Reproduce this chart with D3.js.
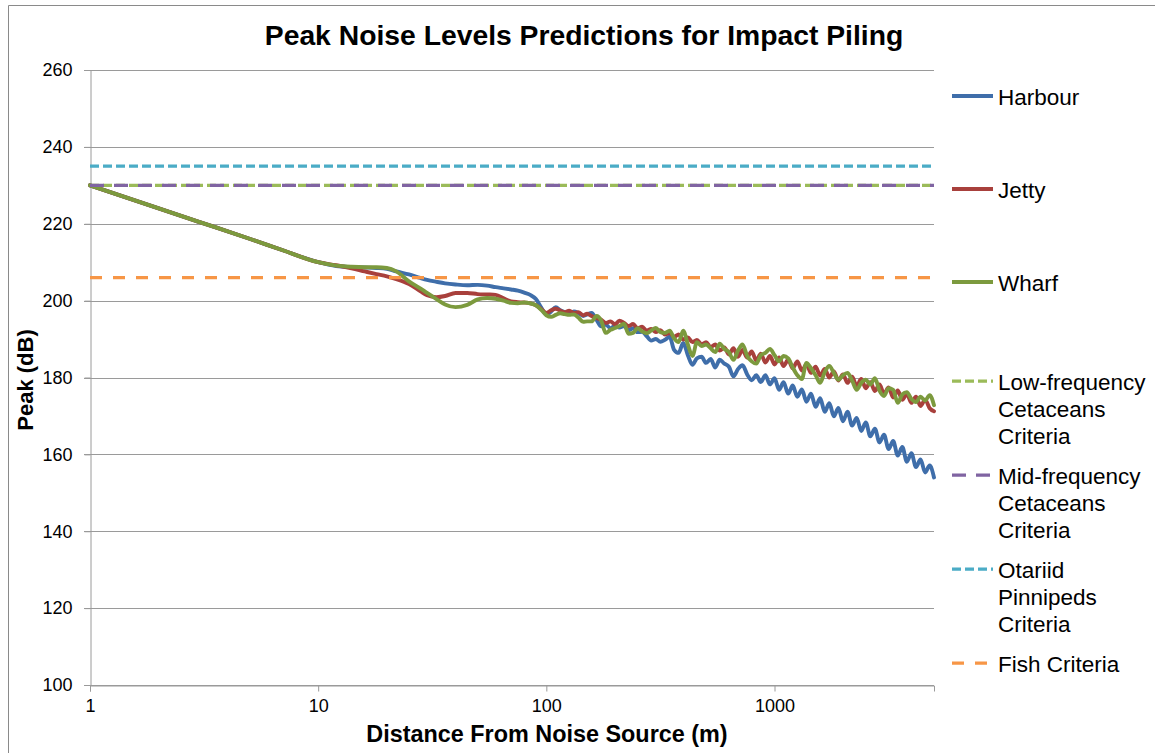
<!DOCTYPE html>
<html>
<head>
<meta charset="utf-8">
<script src="https://cdn.jsdelivr.net/npm/d3@7"></script>
<style>
  html, body { margin: 0; padding: 0; background: #fff; }
  svg { display: block; font-family: Arial, "Liberation Sans", sans-serif; }
</style>
</head>
<body>
<svg id="chart" width="1155" height="753"></svg>
<script>
// Distance from the noise source (m)
const distances = [
  1, 2, 3, 5, 7, 10, 12, 14, 16, 18, 20, 22, 25, 28, 30, 33, 36, 40, 45, 50,
  55, 60, 65, 70, 75, 80, 85, 90, 95,
  100, 105, 110, 115, 120, 126, 132, 138, 145, 151,
  158, 166, 174, 182, 191, 200, 209, 219, 229, 240,
  251, 263, 275, 288, 302, 316, 331, 347, 363, 380,
  398, 417, 437, 457, 479, 501, 525, 550, 575, 603,
  631, 661, 692, 724, 759, 794, 832, 871, 912, 955,
  1000, 1047, 1096, 1148, 1202, 1259, 1318, 1380, 1445, 1514,
  1585, 1660, 1738, 1820, 1905, 1995, 2089, 2188, 2291, 2399,
  2512, 2630, 2754, 2884, 3020, 3162, 3311, 3467, 3631, 3802,
  3981, 4169, 4365, 4571, 4786, 5000
];

// Predicted peak levels (dB) per site
const harbour = [
  230, 224.0, 220.5, 216.1, 213.1, 210.0, 209.0, 208.7, 208.6, 208.5,
  208.3, 207.6, 206.8, 205.9, 205.4, 204.9, 204.5, 204.2, 204.0, 204.1,
  203.9, 203.5, 203.2, 202.9, 202.6, 202.1, 201.5, 200.4, 198.2,
  196.3, 197.2, 198.3, 197.5, 197.0, 196.6, 197.2, 196.8, 196.0, 196.4,
  196.8, 195.0, 193.3, 193.8, 192.8, 193.5, 193.0, 193.4, 192.3, 192.8,
  191.8, 191.9, 190.8, 189.6, 190.0, 189.3, 189.8, 190.6, 187.2, 186.4,
  189.0, 185.8, 183.3, 185.0, 185.4, 183.8, 184.8, 182.6, 184.6, 183.6,
  182.8, 180.3, 182.2, 183.2, 180.8, 179.3, 180.6, 178.8, 180.6, 178.2,
  179.8, 176.8, 178.8, 175.8, 177.9, 175.0, 176.9, 173.7, 175.8, 172.4,
  174.6, 171.1, 173.3, 169.9, 172.1, 168.6, 171.1, 167.5, 169.5, 166.1,
  168.3, 164.7, 166.7, 163.1, 165.1, 161.4, 163.5, 159.7, 161.9, 158.1,
  160.3, 156.7, 158.7, 155.3, 157.1, 154.0
];

const jetty = [
  230, 224.0, 220.5, 216.1, 213.1, 210.0, 209.2, 208.4, 207.6, 206.9,
  206.3, 205.6, 204.3, 202.5, 201.4, 200.9, 201.2, 202.0, 202.0, 201.7,
  201.6, 201.5, 200.6, 199.8, 199.6, 199.5, 199.3, 198.8, 197.8,
  196.8, 197.5, 197.9, 197.4, 197.0, 197.4, 196.8, 197.0, 196.2, 196.6,
  196.0, 195.4, 195.0, 194.2, 194.6, 193.8, 194.8, 194.2, 193.4, 193.9,
  192.8, 193.2, 192.2, 192.6, 191.8, 192.3, 191.2, 191.6, 190.6, 191.2,
  189.9, 190.4, 189.2, 189.8, 188.6, 189.2, 187.9, 188.6, 187.0, 187.8,
  186.0, 187.6, 185.4, 187.2, 185.2, 186.8, 184.4, 186.2, 183.9, 185.6,
  183.4, 185.2, 183.0, 184.6, 182.4, 184.2, 181.8, 183.4, 181.2, 182.8,
  180.5, 182.2, 180.0, 181.6, 179.2, 180.8, 178.6, 180.2, 177.8, 179.6,
  177.2, 178.8, 176.5, 178.2, 175.8, 177.4, 174.8, 176.6, 174.2, 175.7,
  173.4, 175.0, 172.6, 174.2, 172.0, 171.2
];

const wharf = [
  230, 224.0, 220.5, 216.1, 213.1, 210.0, 209.1, 208.8, 208.7, 208.7,
  208.5, 207.6, 205.0, 203.2, 202.0, 200.4, 199.0, 198.3, 198.9, 200.3,
  200.7, 200.5, 200.0, 199.4, 199.3, 199.5, 199.3, 198.8, 197.6,
  196.2, 195.8, 196.3, 196.7, 196.5, 196.3, 196.4, 195.6, 194.5, 194.6,
  194.6, 196.0, 194.8, 191.6, 192.4, 192.9, 193.4, 194.0, 191.4, 191.6,
  192.8, 192.0, 191.5, 192.2, 192.9, 191.8, 191.6, 192.2, 190.2, 189.2,
  192.2, 188.6, 185.6, 189.2, 188.2, 188.6, 187.6, 186.6, 188.8, 187.4,
  186.6, 184.6, 187.0, 188.6, 185.6, 184.2, 183.6, 185.8, 186.4, 187.4,
  185.8, 184.2, 185.6, 185.0, 182.6, 180.6, 179.6, 183.8, 182.4, 180.6,
  178.6, 181.4, 183.0, 181.2, 179.4, 180.6, 181.2, 179.2, 176.8, 178.6,
  179.4, 178.2, 179.8, 176.6, 175.2, 177.2, 176.8, 173.4, 175.6, 176.2,
  174.4, 173.6, 175.0, 174.0, 175.4, 172.8
];

const siteNames = ["Harbour", "Jetty", "Wharf"];
const siteColors = ["#3F6EAA", "#A8403C", "#7C9A3E"];

// Injury thresholds (dB peak)
const criteriaNames = [
  ["Low-frequency", "Cetaceans", "Criteria"],
  ["Mid-frequency", "Cetaceans", "Criteria"],
  ["Otariid", "Pinnipeds", "Criteria"],
  ["Fish Criteria"]
];
const criteriaValues = [230, 230, 235, 206];
const criteriaColors = ["#9BBB59", "#8064A2", "#4BACC6", "#F79646"];
const criteriaDash = ["9,4", "14,10", "9,4", "12,11"];

const yTicks = [100, 120, 140, 160, 180, 200, 220, 240, 260];
const xTicks = [1, 10, 100, 1000];

const svg = d3.select("#chart");
const plot = { left: 90, right: 934, top: 70, bottom: 685 };

// chart frame
svg.append("path")
  .attr("d", "M8.5,760 V5.5 H1160")
  .attr("fill", "none").attr("stroke", "#8a8a8a").attr("stroke-width", 1);

const x = d3.scaleLog().domain([1, 5000]).range([plot.left, plot.right]);
const y = d3.scaleLinear().domain([100, 260]).range([plot.bottom, plot.top]);

// horizontal gridlines
svg.append("g").selectAll("line").data(yTicks).join("line")
  .attr("x1", plot.left - 6).attr("x2", plot.right)
  .attr("y1", d => Math.round(y(d)) + 0.5).attr("y2", d => Math.round(y(d)) + 0.5)
  .attr("stroke", "#9a9a9a").attr("stroke-width", 1);

// value axis
const yAxis = svg.append("g").attr("transform", `translate(${plot.left + 0.5},0)`)
  .call(d3.axisLeft(y).tickValues(yTicks).tickSize(6).tickPadding(12).tickFormat(d3.format("d")));
yAxis.select(".domain").attr("stroke", "#9a9a9a");
yAxis.selectAll(".tick line").attr("stroke", "#9a9a9a");
yAxis.selectAll(".tick text").attr("font-size", 18).attr("fill", "#000")
  .attr("font-family", "Arial, 'Liberation Sans', sans-serif");

// distance axis
const xAxis = svg.append("g").attr("transform", `translate(0,${Math.round(y(100)) + 0.5})`)
  .call(d3.axisBottom(x).tickValues(xTicks).tickSize(6).tickPadding(8).tickFormat(d3.format("d")));
xAxis.select(".domain").attr("stroke", "#9a9a9a");
xAxis.selectAll(".tick line").attr("stroke", "#9a9a9a");
xAxis.selectAll(".tick text").attr("font-size", 18).attr("fill", "#000")
  .attr("font-family", "Arial, 'Liberation Sans', sans-serif");

// site predictions
const line = d3.line()
  .x(d => x(d[0]))
  .y(d => y(d[1]))
  .curve(d3.curveMonotoneX);

const siteSeries = [harbour, jetty, wharf];
siteSeries.forEach((vals, i) => {
  svg.append("path")
    .datum(distances.map((d, k) => [d, vals[k]]))
    .attr("d", line)
    .attr("fill", "none")
    .attr("stroke", siteColors[i])
    .attr("stroke-width", 3.9)
    .attr("stroke-linejoin", "round")
    .attr("stroke-linecap", "round");
});

// threshold lines
criteriaValues.forEach((v, i) => {
  svg.append("line")
    .attr("x1", x(1)).attr("x2", x(5000))
    .attr("y1", y(v)).attr("y2", y(v))
    .attr("stroke", criteriaColors[i])
    .attr("stroke-width", 3.25)
    .attr("stroke-dasharray", criteriaDash[i]);
});

// title
svg.append("text")
  .attr("x", 584).attr("y", 45)
  .attr("text-anchor", "middle")
  .attr("font-size", 28.3).attr("font-weight", "bold")
  .text("Peak Noise Levels Predictions for Impact Piling");

// axis titles
svg.append("text")
  .attr("x", 547).attr("y", 742)
  .attr("text-anchor", "middle")
  .attr("font-size", 23.4).attr("font-weight", "bold")
  .text("Distance From Noise Source (m)");

svg.append("text")
  .attr("transform", "translate(33,380) rotate(-90)")
  .attr("text-anchor", "middle")
  .attr("font-size", 22).attr("font-weight", "bold")
  .text("Peak (dB)");

// legend
const legendItems = [
  { lines: [siteNames[0]], color: siteColors[0], dash: null, y: 97 },
  { lines: [siteNames[1]], color: siteColors[1], dash: null, y: 190 },
  { lines: [siteNames[2]], color: siteColors[2], dash: null, y: 283 },
  { lines: criteriaNames[0], color: criteriaColors[0], dash: criteriaDash[0], y: 382 },
  { lines: criteriaNames[1], color: criteriaColors[1], dash: criteriaDash[1], y: 476 },
  { lines: criteriaNames[2], color: criteriaColors[2], dash: criteriaDash[2], y: 570 },
  { lines: criteriaNames[3], color: criteriaColors[3], dash: criteriaDash[3], y: 664 }
];

const legend = svg.append("g");
legendItems.forEach(item => {
  legend.append("line")
    .attr("x1", 952).attr("x2", 993)
    .attr("y1", item.y - 1).attr("y2", item.y - 1)
    .attr("stroke", item.color)
    .attr("stroke-width", item.dash ? 3.25 : 3.9)
    .attr("stroke-dasharray", item.dash);
  const t = legend.append("text")
    .attr("x", 998).attr("y", item.y + 8)
    .attr("font-size", 22.5);
  item.lines.forEach((s, j) => {
    t.append("tspan").attr("x", 998).attr("dy", j === 0 ? 0 : 27).text(s);
  });
});
</script>
</body>
</html>
